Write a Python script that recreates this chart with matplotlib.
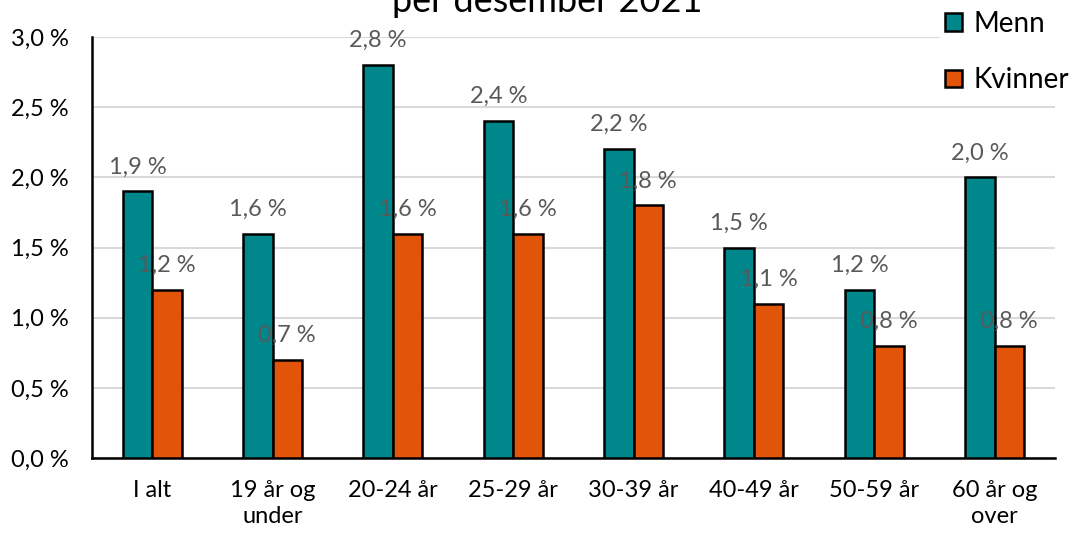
import matplotlib.pyplot as plt
import numpy as np

# categories and values (percent)
kategorier = ['I alt', '19 år og\nunder', '20-24 år', '25-29 år', '30-39 år',
              '40-49 år', '50-59 år', '60 år og\nover']
menn = [1.9, 1.6, 2.8, 2.4, 2.2, 1.5, 1.2, 2.0]
kvinner = [1.2, 0.7, 1.6, 1.6, 1.8, 1.1, 0.8, 0.8]
yticks = [0.0, 0.5, 1.0, 1.5, 2.0, 2.5, 3.0]

plt.rcParams['font.family'] = ['Lato', 'DejaVu Sans']

fig = plt.figure(figsize=(10.74, 5.37), dpi=100)
ax = fig.add_axes([0.0857, 0.147, 0.8963, 0.784])

x = np.arange(len(kategorier))
w = 0.245
b1 = ax.bar(x - w / 2, menn, w, color='#00878C', edgecolor='black', linewidth=1.8,
            label='Menn', zorder=3)
b2 = ax.bar(x + w / 2, kvinner, w, color='#E2540A', edgecolor='black', linewidth=1.8,
            label='Kvinner', zorder=3)

# value labels
for bars, vals in [(b1, menn), (b2, kvinner)]:
    for r, v in zip(bars, vals):
        ax.text(r.get_x() + r.get_width() / 2, v + 0.1, f'{v:.1f} %'.replace('.', ','),
                ha='center', va='bottom', fontsize=17, color='#595959', zorder=4)

ax.set_xlim(-0.5, 7.5)
ax.set_ylim(0, 3.0)
ax.set_yticks(yticks)
ax.set_yticklabels([f'{t:.1f} %'.replace('.', ',') for t in yticks], fontsize=17)
ax.set_xticks(x)
ax.set_xticklabels(kategorier, fontsize=17, linespacing=1.3)
ax.tick_params(axis='y', length=0, pad=17)
ax.tick_params(axis='x', length=0, pad=16)
ax.grid(axis='y', color='#D9D9D9', linewidth=1.5, zorder=0)
for s in ['top', 'right']:
    ax.spines[s].set_visible(False)
ax.spines['left'].set_linewidth(1.8)
ax.spines['bottom'].set_linewidth(1.8)

# title (cut off at the top in the original)
fig.text(0.51, 1 - 12 / 537, 'per desember 2021', ha='center', va='baseline',
         fontsize=26, color='black')

leg = fig.legend(handles=[b1, b2], loc='upper left', bbox_to_anchor=(0.875, 0.99),
                 fontsize=20, frameon=True, edgecolor='white', framealpha=1,
                 handlelength=0.61, handleheight=0.61, labelspacing=1.09,
                 handletextpad=0.4, borderpad=0.2, borderaxespad=0)

fig.savefig('out.png', dpi=100)
